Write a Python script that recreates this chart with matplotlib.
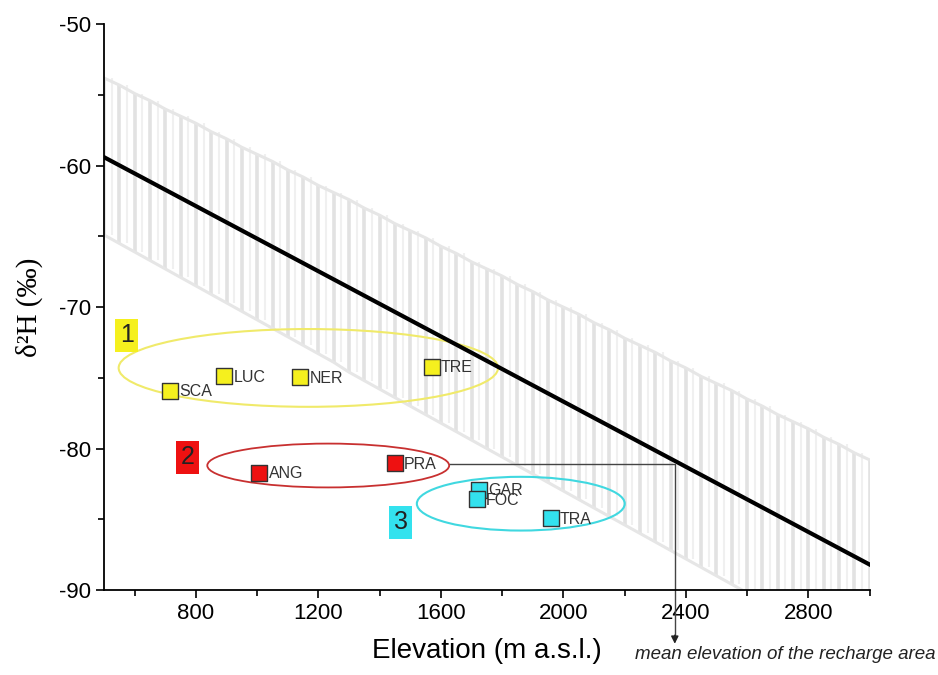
import matplotlib
matplotlib.use("Agg")
import matplotlib.pyplot as plt
from matplotlib.patches import Ellipse
import numpy as np

plt.rcParams["font.family"] = ["Liberation Sans", "DejaVu Sans"]
plt.rcParams["axes.unicode_minus"] = False

# regression line end points
line_x = [500, 3000]
line_y = [-59.4, -88.2]

# uncertainty band (vertical bars every 50 m)
band_x = [500, 550, 600, 650, 700, 750, 800, 850, 900, 950,
          1000, 1050, 1100, 1150, 1200, 1250, 1300, 1350, 1400, 1450,
          1500, 1550, 1600, 1650, 1700, 1750, 1800, 1850, 1900, 1950,
          2000, 2050, 2100, 2150, 2200, 2250, 2300, 2350, 2400, 2450,
          2500, 2550, 2600, 2650, 2700, 2750, 2800, 2850, 2900, 2950, 3000]
band_hi = [-53.8, -54.3, -54.9, -55.4, -56.0, -56.5, -57.0, -57.6, -58.1, -58.7,
           -59.2, -59.7, -60.3, -60.8, -61.4, -61.9, -62.4, -63.0, -63.5, -64.1,
           -64.6, -65.1, -65.7, -66.2, -66.8, -67.3, -67.8, -68.4, -68.9, -69.5,
           -70.0, -70.5, -71.1, -71.6, -72.2, -72.7, -73.2, -73.8, -74.3, -74.9,
           -75.4, -75.9, -76.5, -77.0, -77.6, -78.1, -78.6, -79.2, -79.7, -80.3, -80.8]
band_lo = [-64.9, -65.5, -66.1, -66.7, -67.3, -67.9, -68.5, -69.1, -69.7, -70.3,
           -70.9, -71.5, -72.1, -72.7, -73.3, -73.9, -74.6, -75.2, -75.8, -76.4,
           -77.0, -77.6, -78.2, -78.8, -79.4, -80.0, -80.6, -81.2, -81.8, -82.4,
           -83.0, -83.6, -84.2, -84.8, -85.4, -86.0, -86.6, -87.2, -87.8, -88.4,
           -89.0, -89.6, -90.2, -90.8, -91.4, -92.0, -92.6, -93.2, -93.8, -94.4, -95.0]

# springs
g1_names = ["SCA", "LUC", "NER", "TRE"]
g1_x = [715, 892, 1141, 1570]
g1_y = [-75.9, -74.9, -74.95, -74.2]

g2_names = ["ANG", "PRA"]
g2_x = [1007, 1449]
g2_y = [-81.7, -81.0]

g3_names = ["GAR", "FOC", "TRA"]
g3_x = [1725, 1718, 1958]
g3_y = [-82.9, -83.6, -84.9]

recharge_x = 2364
recharge_y = -81.1

fig = plt.figure(figsize=(9.38, 6.75), dpi=100)
ax = fig.add_axes([0.111, 0.126, 0.816, 0.838])

# band: light vertical bars with faint edges
bx = np.array(band_x)
bhi = np.array(band_hi)
blo = np.array(band_lo)
ax.vlines(bx, blo, bhi, color="#e2e2e2", lw=2.6, zorder=1)
ax.vlines(bx + 25, blo, bhi, color="#f0f0f0", lw=1.5, zorder=1)
ax.plot(bx, bhi, color="#e6e6e6", lw=2.2, zorder=1)
ax.plot(bx, blo, color="#e6e6e6", lw=2.2, zorder=1)

ax.plot(line_x, line_y, color="black", lw=3, zorder=3)

# ellipses
ax.add_patch(Ellipse((1167, -74.3), 1239, 5.5, fill=False, ec="#f0ea6a", lw=1.5, zorder=2))
ax.add_patch(Ellipse((1232, -81.2), 790, 3.1, fill=False, ec="#c83030", lw=1.3, zorder=2))
ax.add_patch(Ellipse((1861, -83.9), 679, 3.8, fill=False, ec="#40d8e0", lw=1.5, zorder=2))

# connector to recharge elevation
ax.plot([1630, recharge_x, recharge_x], [recharge_y, recharge_y, -93.2],
        color="#444444", lw=1, clip_on=False, zorder=2)
ax.annotate("", xy=(recharge_x, -94.0), xytext=(recharge_x, -93.0),
            arrowprops=dict(arrowstyle="-|>", color="#222222", lw=1, mutation_scale=11),
            annotation_clip=False)
ax.text(0.677, 0.03, "mean elevation of the recharge area", transform=fig.transFigure,
        fontsize=13.5, style="italic", color="#222222", ha="left", va="center")

groups = [
    (g1_names, g1_x, g1_y, "#f5f01e"),
    (g2_names, g2_x, g2_y, "#ee1111"),
    (g3_names, g3_x, g3_y, "#33e2ee"),
]
for names, xs, ys, col in groups:
    ax.scatter(xs, ys, marker="s", s=120, c=col, edgecolors="#333333",
               linewidths=1, zorder=4)
    for n, x, y in zip(names, xs, ys):
        ax.text(x + 30, y - 0.1, n, fontsize=11.5, color="#333333",
                ha="left", va="center", zorder=5)

# group numbers
for num, x, y, col in [("1", 574, -72.0, "#f5f01e"),
                       ("2", 773, -80.6, "#ee1111"),
                       ("3", 1469, -85.2, "#33e2ee")]:
    ax.text(x, y, num, fontsize=18, color="#222222", ha="center", va="center",
            bbox=dict(boxstyle="square,pad=0.18", fc=col, ec="none"), zorder=5)

ax.set_xlim(500, 3000)
ax.set_ylim(-90, -50)
ax.set_xticks([800, 1200, 1600, 2000, 2400, 2800])
ax.set_xticks([600, 1000, 1400, 1800, 2200, 2600, 3000], minor=True)
ax.set_yticks([-90, -80, -70, -60, -50])
ax.set_yticks([-85, -75, -65, -55], minor=True)
ax.tick_params(which="major", direction="out", length=6, width=1.2, labelsize=16)
ax.tick_params(which="minor", direction="out", length=4, width=1.2)
for s in ["top", "right"]:
    ax.spines[s].set_visible(False)
for s in ["left", "bottom"]:
    ax.spines[s].set_linewidth(1.3)

ax.set_xlabel("Elevation (m a.s.l.)", fontsize=20)
ax.xaxis.set_label_coords(0.5, -0.085)
ax.set_ylabel("δ²H (‰)", fontsize=21, family=["Liberation Serif", "DejaVu Serif"])
ax.yaxis.set_label_coords(-0.08, 0.5)

fig.savefig("out.png", dpi=100)
